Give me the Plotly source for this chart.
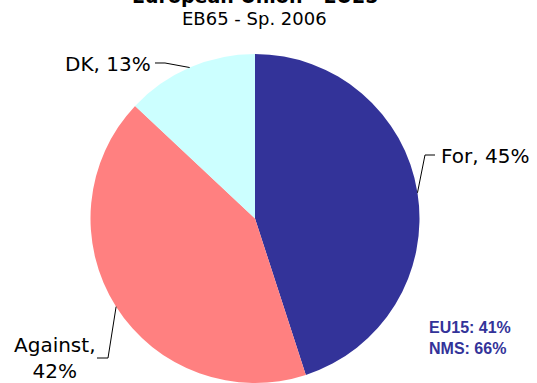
import math
import plotly.graph_objects as go

# Survey results
labels = ["For", "Against", "DK"]
values = [45, 42, 13]
colors = ["#333399", "#FF8080", "#CCFFFF"]
title_text = "European Union - EU25"
subtitle_text = "EB65 - Sp. 2006"
note_lines = ["EU15: 41%", "NMS: 66%"]

W, H = 537, 383
# pie placement in pixels
cx, cy, R = 255.0, 218.5, 164.5


def px(x):
    return x / W


def py(y):
    return 1 - y / H


fig = go.Figure(
    go.Pie(
        labels=labels,
        values=values,
        marker=dict(colors=colors, line=dict(width=0)),
        sort=False,
        direction="clockwise",
        rotation=0,
        textinfo="none",
        hoverinfo="label+percent",
        domain=dict(x=[px(cx - R), px(cx + R)], y=[0, py(cy - R)]),
        showlegend=False,
    )
)

# label layout: elbow point, end of horizontal stub, text anchor
label_layout = {
    "For": dict(elbow=(425, 155), end=(435, 155), text=(439, 156), xanchor="left", br=False),
    "Against": dict(elbow=(108, 358), end=(97, 358), text=(54, 358), xanchor="center", br=True),
    "DK": dict(elbow=(165, 63), end=(155, 63), text=(153, 64), xanchor="right", br=False),
}

total = sum(values)
acc = 0.0
shapes = []
annotations = []
for lab, val in zip(labels, values):
    mid = (acc + val / 2) / total * 2 * math.pi
    acc += val
    sx = cx + R * math.sin(mid)
    sy = cy - R * math.cos(mid)
    lay = label_layout[lab]
    pts = [(sx, sy), lay["elbow"], lay["end"]]
    path = "M " + " L ".join(f"{px(x):.5f},{py(y):.5f}" for x, y in pts)
    shapes.append(dict(type="path", xref="paper", yref="paper", path=path,
                       line=dict(color="black", width=1)))
    pct = round(val / total * 100)
    sep = "<br>" if lay["br"] else " "
    annotations.append(dict(
        x=px(lay["text"][0]), y=py(lay["text"][1]), xref="paper", yref="paper",
        text=f"{lab},{sep}{pct}%", showarrow=False,
        xanchor=lay["xanchor"], yanchor="middle", align="center",
        font=dict(family="DejaVu Sans", size=20, color="black"),
    ))

annotations.append(dict(
    x=px(255), y=py(9), xref="paper", yref="paper", text=f"<b>{title_text}</b>",
    showarrow=False, xanchor="center", yanchor="bottom",
    font=dict(family="DejaVu Sans", size=19, color="black"),
))
annotations.append(dict(
    x=px(254), y=py(31), xref="paper", yref="paper", text=subtitle_text,
    showarrow=False, xanchor="center", yanchor="bottom",
    font=dict(family="DejaVu Sans", size=18, color="black"),
))
annotations.append(dict(
    x=px(427), y=py(338), xref="paper", yref="paper",
    text="<b>" + "<br>".join(note_lines) + "</b>",
    showarrow=False, xanchor="left", yanchor="middle", align="left",
    font=dict(family="Liberation Sans", size=16, color="#333399"),
))

fig.update_layout(
    width=W, height=H,
    margin=dict(l=0, r=0, t=0, b=0),
    paper_bgcolor="white", plot_bgcolor="white",
    shapes=shapes, annotations=annotations,
)

fig.write_html("out.html")
